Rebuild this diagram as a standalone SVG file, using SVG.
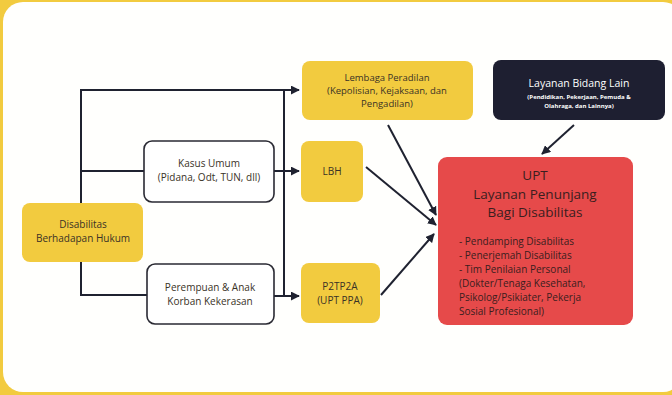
<svg xmlns="http://www.w3.org/2000/svg" width="672" height="395" viewBox="0 0 672 395">
<defs>
<marker id="ah" viewBox="0 0 10 10" refX="9" refY="5" markerWidth="9" markerHeight="9" markerUnits="userSpaceOnUse" orient="auto">
<path d="M0,0 L10,5 L0,10 z" fill="#1f2230"/>
</marker>
<style>
.y{fill:#f2cb3f}
.w{fill:#ffffff;stroke:#2a2a33;stroke-width:1.6}
.t{font-family:"Open Sans","Noto Sans",sans-serif;font-size:10px;fill:#3a3226;text-anchor:middle}
.c{fill:none;stroke:#1f2230;stroke-width:2}
.r{font-family:"Open Sans","Noto Sans",sans-serif;fill:#3a1e1e}
</style>
</defs>
<rect x="0" y="0" width="672" height="395" fill="#f2cb3f"/>
<rect x="3" y="2" width="680" height="390" rx="20" fill="#fffffd"/>

<g id="connectors">
<path class="c" d="M81,203 V90 H299" marker-end="url(#ah)"/>
<path class="c" d="M81,171 H144"/>
<path class="c" d="M81,262 V295 H147"/>
<path class="c" d="M284,90 V296"/>
<path class="c" d="M274,171 H299" marker-end="url(#ah)"/>
<path class="c" d="M274,296 H299" marker-end="url(#ah)"/>
<path class="c" d="M388,125 L436,215" marker-end="url(#ah)"/>
<path class="c" d="M366,167 L436,225" marker-end="url(#ah)"/>
<path class="c" d="M381,295 L434,234" marker-end="url(#ah)"/>
<path class="c" d="M574,125 L542,154" marker-end="url(#ah)"/>
</g>

<g id="disabilitas">
<rect class="y" x="22" y="203" width="121" height="59" rx="8"/>
<text class="t" x="83" y="228">Disabilitas</text>
<text class="t" x="83" y="242">Berhadapan Hukum</text>
</g>

<g id="kasus-umum">
<rect class="w" x="144" y="141" width="130" height="61" rx="8"/>
<text class="t" x="209" y="167">Kasus Umum</text>
<text class="t" x="209" y="181">(Pidana, Odt, TUN, dll)</text>
</g>

<g id="perempuan">
<rect class="w" x="147" y="264" width="127" height="60" rx="8"/>
<text class="t" x="210" y="291">Perempuan &amp; Anak</text>
<text class="t" x="210" y="305">Korban Kekerasan</text>
</g>

<g id="lembaga">
<rect class="y" x="302" y="61" width="171" height="59" rx="8"/>
<text class="t" x="387" y="81" style="font-size:9.5px">Lembaga Peradilan</text>
<text class="t" x="387" y="94" style="font-size:9.5px">(Kepolisian, Kejaksaan, dan</text>
<text class="t" x="387" y="107" style="font-size:9.5px">Pengadilan)</text>
</g>

<g id="layanan-lain">
<rect x="493" y="60" width="172" height="60" rx="8" fill="#1e1f31"/>
<text class="t" x="579" y="87" style="fill:#ffffff;font-size:10.5px">Layanan Bidang Lain</text>
<text class="t" x="579" y="99" style="fill:#ffffff;font-size:6px;font-weight:bold">(Pendidikan, Pekerjaan, Pemuda &amp;</text>
<text class="t" x="579" y="108" style="fill:#ffffff;font-size:6px;font-weight:bold">Olahraga, dan Lainnya)</text>
</g>

<g id="lbh">
<rect class="y" x="301" y="141" width="62" height="61" rx="8"/>
<text class="t" x="332" y="175">LBH</text>
</g>

<g id="p2tp2a">
<rect class="y" x="301" y="263" width="79" height="60" rx="8"/>
<text class="t" x="340" y="290">P2TP2A</text>
<text class="t" x="340" y="304">(UPT PPA)</text>
</g>

<g id="upt">
<rect x="438" y="157" width="195" height="168" rx="9" fill="#e64a4a"/>
<text class="r" x="535" y="180" font-size="13.5" text-anchor="middle">UPT</text>
<text class="r" x="535" y="198.5" font-size="13.5" text-anchor="middle">Layanan Penunjang</text>
<text class="r" x="535" y="217" font-size="13.5" text-anchor="middle">Bagi Disabilitas</text>
<text class="r" x="459" y="245" font-size="10">- Pendamping Disabilitas</text>
<text class="r" x="459" y="259" font-size="10">- Penerjemah Disabilitas</text>
<text class="r" x="459" y="273" font-size="10">- Tim Penilaian Personal</text>
<text class="r" x="459" y="287" font-size="10">(Dokter/Tenaga Kesehatan,</text>
<text class="r" x="459" y="301" font-size="10">Psikolog/Psikiater, Pekerja</text>
<text class="r" x="459" y="315" font-size="10">Sosial Profesional)</text>
</g>
</svg>
